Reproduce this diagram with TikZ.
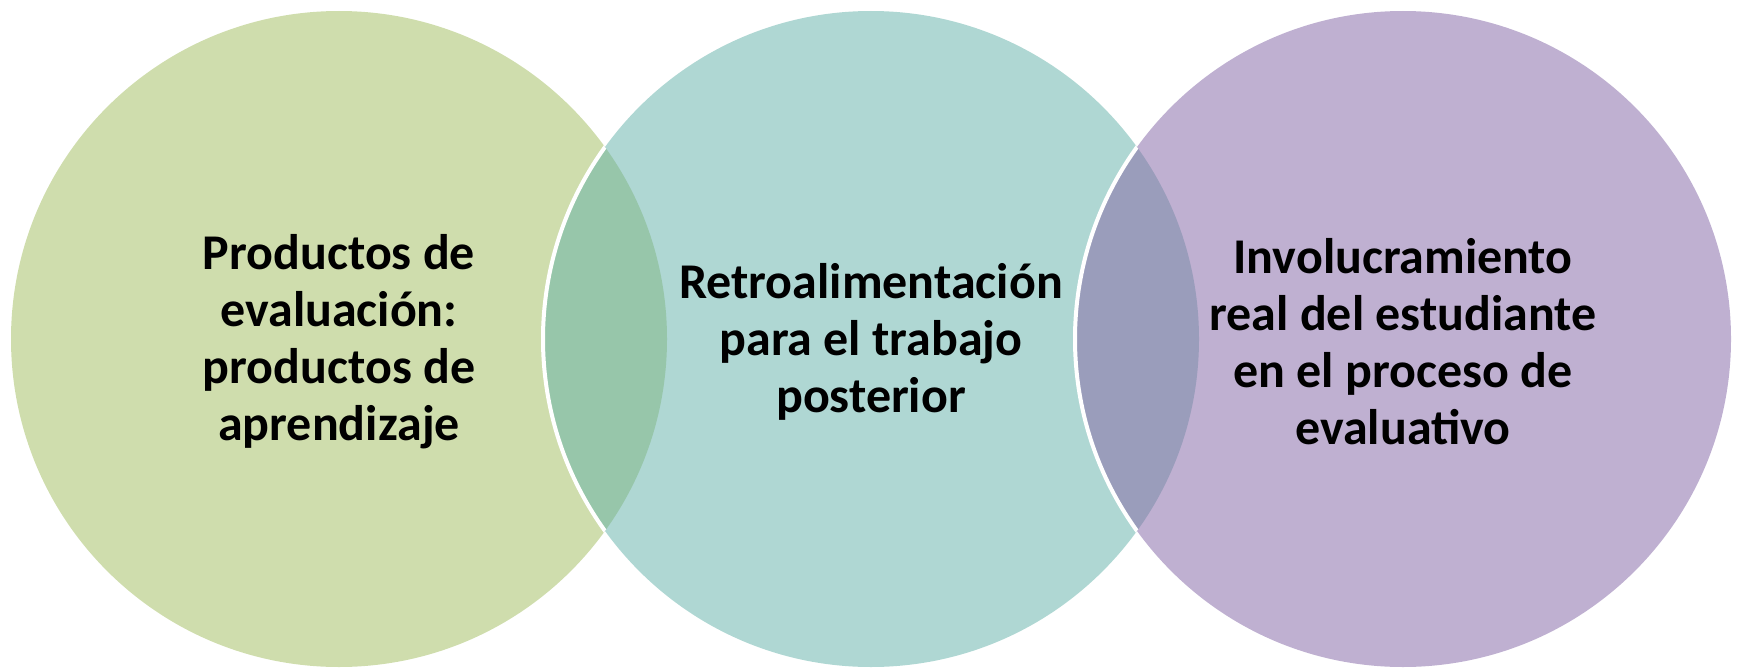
\documentclass[tikz,border=0pt]{standalone}
\usepackage{fontspec}
\setmainfont{Carlito}
\definecolor{cgreen}{RGB}{207,221,173}
\definecolor{cteal}{RGB}{175,215,211}
\definecolor{cpurple}{RGB}{191,176,209}
\definecolor{lensA}{RGB}{151,198,170}
\definecolor{lensB}{RGB}{154,157,187}
\tikzset{
  lbl/.style={align=center, font=\fontsize{50}{57}\selectfont\bfseries, text=black},
  edgeline/.style={draw=white, line width=4pt}
}
\begin{document}
\begin{tikzpicture}[x=1pt,y=-1pt]
\useasboundingbox (0,0) rectangle (1740,669);
\coordinate (cL) at (339,339);
\coordinate (cM) at (871,339);
\coordinate (cR) at (1403,339);
% circles
\fill[cgreen] (cL) circle (328pt);
\fill[cteal] (cM) circle (328pt);
\fill[cpurple] (cR) circle (328pt);
% lenses
\begin{scope}
  \clip (cL) circle (328pt);
  \fill[lensA] (cM) circle (328pt);
  \draw[edgeline] (cM) circle (328pt);
\end{scope}
\begin{scope}
  \clip (cM) circle (328pt);
  \fill[lensB] (cR) circle (328pt);
  \draw[edgeline] (cR) circle (328pt);
\end{scope}
% labels
\node[lbl] (tL) at ([yshift=-3pt]cL) {Productos de\\evaluación:\\productos de\\aprendizaje};
\node[lbl] (tM) at ([yshift=-3pt]cM) {Retroalimentación\\para el trabajo\\posterior};
\node[lbl] (tR) at ([yshift=-3pt]cR) {Involucramiento\\real del estudiante\\en el proceso de\\evaluativo};
\end{tikzpicture}
\end{document}
